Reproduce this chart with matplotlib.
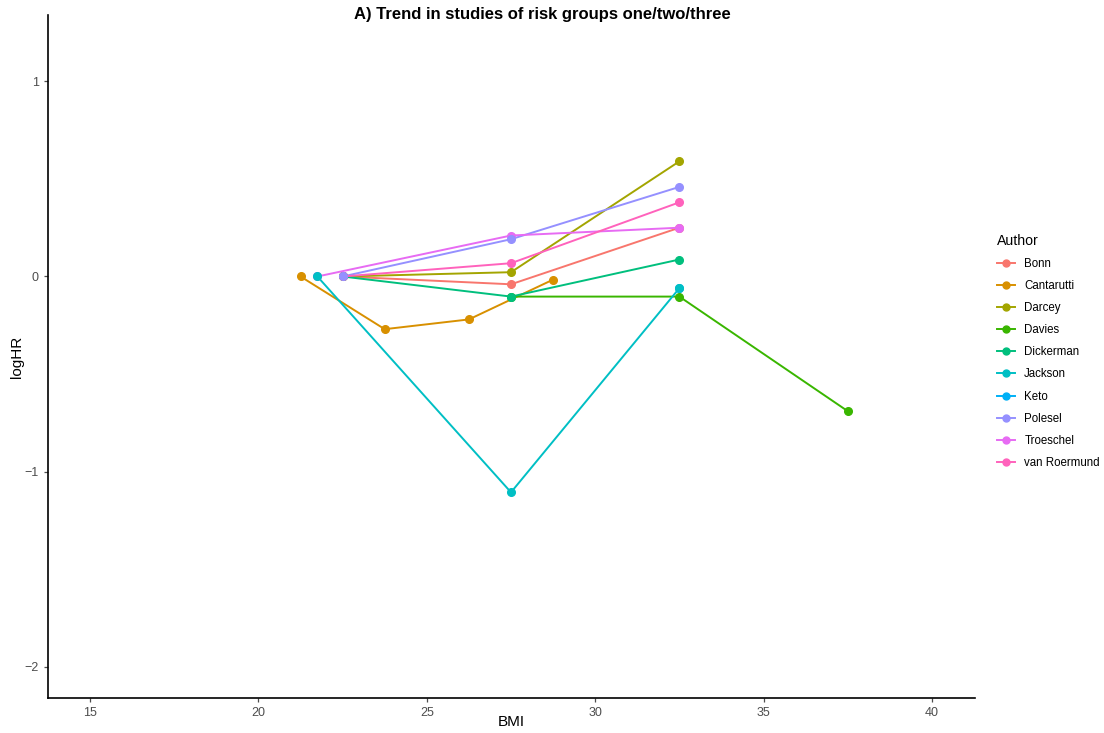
import matplotlib
matplotlib.use("Agg")
import matplotlib.pyplot as plt
from matplotlib.lines import Line2D

plt.rcParams['font.family'] = ['Liberation Sans', 'DejaVu Sans']

# BMI category midpoints and log hazard ratios per study
authors = ["Bonn", "Cantarutti", "Darcey", "Davies", "Dickerman",
           "Jackson", "Keto", "Polesel", "Troeschel", "van Roermund"]
colors = ["#F8766D", "#D89000", "#A3A500", "#39B600", "#00BF7D",
          "#00BFC4", "#00B0F6", "#9590FF", "#E76BF3", "#FF62BC"]

bmi_bonn = [22.5, 27.5, 32.5]
hr_bonn = [0.0, -0.04, 0.25]
bmi_cantarutti = [21.25, 23.75, 26.25, 28.75]
hr_cantarutti = [0.0, -0.27, -0.22, -0.016]
bmi_darcey = [22.5, 27.5, 32.5]
hr_darcey = [0.0, 0.022, 0.59]
bmi_davies = [27.5, 32.5, 37.5]
hr_davies = [-0.103, -0.103, -0.69]
bmi_dickerman = [22.5, 27.5, 32.5]
hr_dickerman = [0.0, -0.103, 0.087]
bmi_jackson = [21.75, 27.5, 32.5]
hr_jackson = [0.0, -1.106, -0.06]
bmi_keto = [32.5]
hr_keto = [-0.06]
bmi_polesel = [22.5, 27.5, 32.5]
hr_polesel = [0.0, 0.191, 0.459]
bmi_troeschel = [21.75, 27.5, 32.5]
hr_troeschel = [0.0, 0.21, 0.25]
bmi_roermund = [22.5, 27.5, 32.5]
hr_roermund = [0.0, 0.068, 0.38]

series = [(bmi_bonn, hr_bonn), (bmi_cantarutti, hr_cantarutti),
          (bmi_darcey, hr_darcey), (bmi_davies, hr_davies),
          (bmi_dickerman, hr_dickerman), (bmi_jackson, hr_jackson),
          (bmi_keto, hr_keto), (bmi_polesel, hr_polesel),
          (bmi_troeschel, hr_troeschel), (bmi_roermund, hr_roermund)]

# order in which points are stacked (last on top)
point_order = [0, 1, 2, 3, 4, 6, 8, 9, 7, 5]

fig = plt.figure(figsize=(11.04, 7.33), dpi=100)
ax = fig.add_axes([48 / 1104, 1 - 698 / 733, 927 / 1104, 683 / 733])

# lines first, then points on top
for (x, y), c in zip(series, colors):
    ax.plot(x, y, color=c, lw=1.4, zorder=2)
for k, i in enumerate(point_order):
    x, y = series[i]
    ax.plot(x, y, ls="none", marker="o", ms=5.5, color=colors[i], zorder=3 + k * 0.01)

ax.set_xlim(13.75, 41.28)
ax.set_ylim(-2.16, 1.34)
ax.set_xticks([15, 20, 25, 30, 35, 40])
ax.set_yticks([-2, -1, 0, 1])
ax.set_yticklabels(["\u22122", "\u22121", "0", "1"])

for s in ["top", "right"]:
    ax.spines[s].set_visible(False)
for s in ["left", "bottom"]:
    ax.spines[s].set_linewidth(1.2)
    ax.spines[s].set_color("black")
ax.tick_params(colors="#4D4D4D", labelsize=9, length=3, width=0.9)

ax.set_xlabel("BMI", fontsize=11, color="black")
ax.xaxis.set_label_coords(0.5, -0.025)
ax.set_ylabel("logHR", fontsize=11, color="black")
ax.yaxis.set_label_coords(-0.026, 0.5)

fig.text(542 / 1104, 1 - 14 / 733, "A) Trend in studies of risk groups one/two/three",
         ha="center", va="center", fontsize=12, fontweight="bold")

handles = [Line2D([0], [0], color=c, lw=1.4, marker="o", ms=5) for c in colors]
leg = fig.legend(handles, authors, title="Author", loc="upper left",
                 bbox_to_anchor=(992 / 1104, 1 - 229 / 733), frameon=False,
                 fontsize=8.3, title_fontsize=10.2, handlelength=1.6,
                 labelspacing=0.88, handletextpad=0.8, borderaxespad=0)
leg._legend_box.align = "left"

plt.savefig("out.png", dpi=100)
